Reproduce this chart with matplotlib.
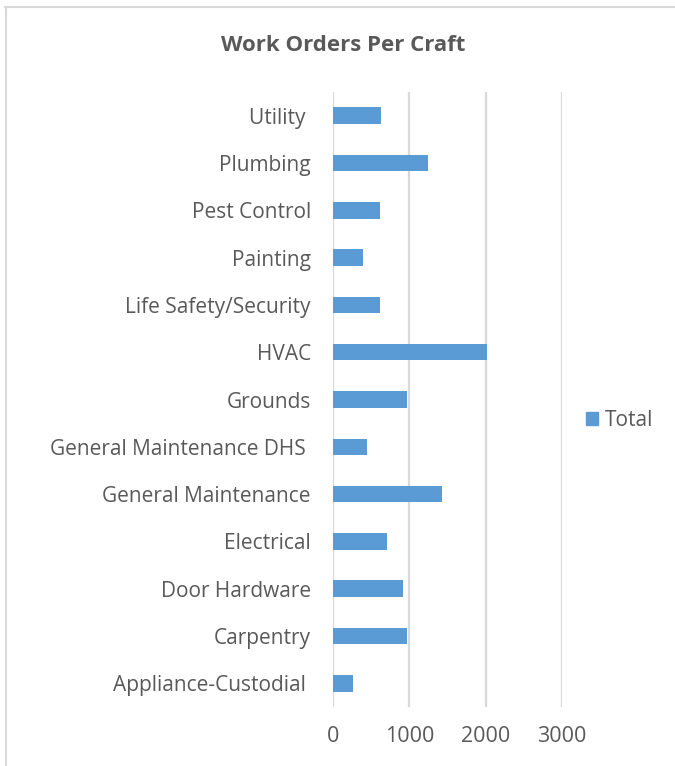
"""Work orders per craft, horizontal bar chart."""

import matplotlib
matplotlib.use("Agg")
import matplotlib.pyplot as plt
from matplotlib.lines import Line2D
from matplotlib.patches import Patch

crafts = [
    "Utility ",
    "Plumbing",
    "Pest Control",
    "Painting",
    "Life Safety/Security",
    "HVAC",
    "Grounds",
    "General Maintenance DHS ",
    "General Maintenance",
    "Electrical",
    "Door Hardware",
    "Carpentry",
    "Appliance-Custodial ",
]
totals = [635, 1248, 622, 387, 622, 2017, 974, 452, 1430, 713, 922, 974, 257]
x_ticks = [0, 1000, 2000, 3000]

BAR_COLOR = "#5B9BD5"
TEXT_COLOR = "#595959"
GRID_COLOR = "#D9D9D9"

plt.rcParams["font.family"] = ["Open Sans", "DejaVu Sans"]

fig = plt.figure(figsize=(6.75, 7.66), dpi=100)
ax = fig.add_axes([0.4933, 0.077, 0.3393, 0.8029])

positions = list(range(len(crafts)))
ax.barh(positions, totals, height=0.35, color=BAR_COLOR, zorder=3)
ax.set_ylim(len(crafts) - 0.5, -0.5)
ax.set_xlim(0, 3000)
ax.set_xticks(x_ticks)
ax.set_xticklabels([str(t) for t in x_ticks])
ax.set_yticks(positions)
ax.set_yticklabels(crafts)

ax.grid(axis="x", color=GRID_COLOR, linewidth=1.6, zorder=0)
ax.tick_params(axis="both", length=0, labelcolor=TEXT_COLOR)
ax.tick_params(axis="y", labelsize=15, pad=16)
ax.tick_params(axis="x", labelsize=15.5, pad=14)
for spine in ax.spines.values():
    spine.set_visible(False)

fig.text(0.508, 0.940, "Work Orders Per Craft", ha="center", va="center",
         fontsize=16, fontweight="bold", color=TEXT_COLOR)

leg_y = 1 - 420 / 766
ax.legend(handles=[Patch(color=BAR_COLOR, label="Total")],
          loc="center left", bbox_to_anchor=(0.852, leg_y),
          bbox_transform=fig.transFigure, frameon=False, borderpad=0,
          fontsize=15, labelcolor=TEXT_COLOR, handlelength=0.6,
          handleheight=0.6, handletextpad=0.35)

# chart border: only top and left edges are visible in the source
fig.add_artist(Line2D([0.008, 1.0], [0.991, 0.991], color=GRID_COLOR,
                      linewidth=1.5, transform=fig.transFigure))
fig.add_artist(Line2D([0.009, 0.009], [0.0, 0.991], color=GRID_COLOR,
                      linewidth=1.5, transform=fig.transFigure))

fig.savefig("out.png", dpi=100, facecolor="white")
